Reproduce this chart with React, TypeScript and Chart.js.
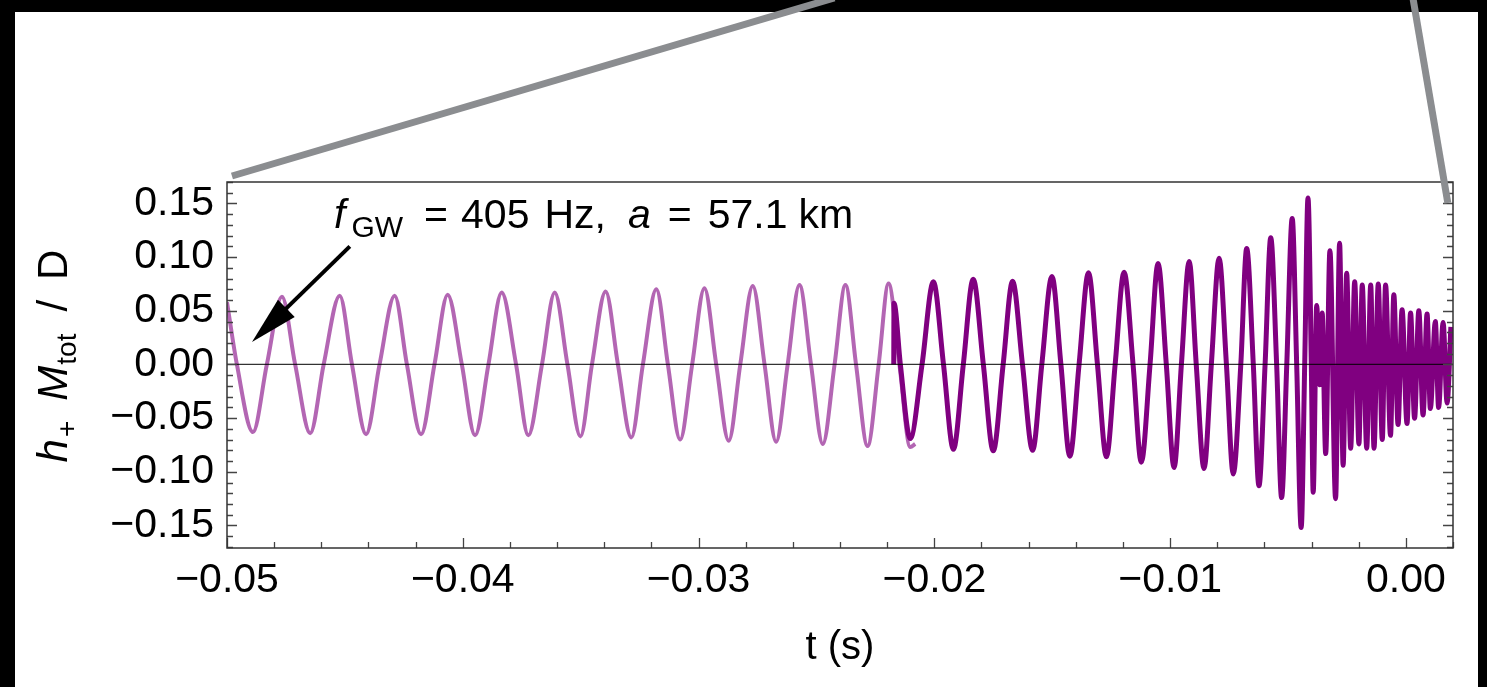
import React, { useEffect, useRef } from "react";
import { Chart, registerables } from "chart.js";

Chart.register(...registerables);

const FONT = '"Liberation Sans", Arial, Helvetica, sans-serif';

// ---- light (early inspiral) waveform: time (s) and strain ----
const lightT = [
  -0.05, -0.04958, -0.0489, -0.04831, -0.04767, -0.04711, -0.04647, -0.0459, -0.04522, -0.0447,
  -0.0441, -0.04353, -0.04289, -0.04237, -0.04177, -0.0412, -0.04064, -0.04004, -0.03948, -0.03891,
  -0.03835, -0.03774, -0.03722, -0.03664, -0.0361, -0.03556, -0.03501, -0.03452, -0.03394, -0.03342,
  -0.03285, -0.03236, -0.03179, -0.0313, -0.03078, -0.03027, -0.02975, -0.02925, -0.02872, -0.02823,
  -0.0277, -0.0272, -0.02671, -0.02622, -0.02572, -0.02523, -0.02473, -0.02423, -0.02377, -0.02332,
  -0.02283, -0.02236, -0.02194, -0.02148, -0.02102, -0.02081,
];
const lightH = [
  0.058, 0, -0.063, 0, 0.063, 0, -0.064, 0, 0.064, 0,
  -0.065, 0, 0.064, 0, -0.065, 0, 0.065, 0, -0.066, 0,
  0.067, 0, -0.066, 0, 0.067, 0, -0.067, 0, 0.068, 0,
  -0.068, 0, 0.07, 0, -0.07, 0, 0.071, 0, -0.071, 0,
  0.073, 0, -0.072, 0, 0.074, 0, -0.074, 0, 0.074, 0,
  -0.076, 0, 0.0755, 0, -0.077, -0.074,
];

// ---- dark (late inspiral, merger, post-merger) waveform ----
const darkT = [
  -0.02172, -0.02171, -0.02144, -0.02102, -0.02052, -0.02004, -0.01961, -0.01919, -0.01877, -0.01835,
  -0.01792, -0.0175, -0.01708, -0.01668, -0.01626, -0.01583, -0.01544, -0.01501, -0.01463, -0.01425,
  -0.01386, -0.01346, -0.01308, -0.0127, -0.01233, -0.01195, -0.01157, -0.01122, -0.01085, -0.01051,
  -0.01016, -0.00983, -0.00952, -0.00919, -0.00889, -0.00856, -0.00825, -0.00792, -0.00761, -0.00732,
  -0.007, -0.00675, -0.00647, -0.00623, -0.00597, -0.00573, -0.00548, -0.00527, -0.00505, -0.00482,
  -0.00463, -0.00444, -0.00429, -0.00415, -0.00401, -0.00393,
  -0.00378, -0.00366, -0.00355, -0.0034, -0.00322, -0.00298, -0.00281, -0.00266, -0.00251, -0.00234,
  -0.00217, -0.00199, -0.00185, -0.00166, -0.00149, -0.00135, -0.00117, -0.001, -0.00086, -0.00065,
  -0.00051, -0.00033, -0.00016, 0.00005, 0.0002, 0.00037, 0.00055, 0.00073, 0.0009, 0.00104,
  0.00125, 0.00139, 0.00158, 0.00175, 0.00191,
];
const darkH = [
  0, 0.057, 0, -0.069, 0, 0.077, 0, -0.079, 0, 0.0795,
  0, -0.0805, 0, 0.0776, 0, -0.08, 0, 0.082, 0, -0.0855,
  0, 0.0855, 0, -0.086, 0, 0.086, 0, -0.091, 0, 0.094,
  0, -0.096, 0, 0.096, 0, -0.097, 0, 0.099, 0, -0.102,
  0, 0.108, 0, -0.113, 0, 0.118, 0, -0.124, 0, 0.136,
  0, -0.152, 0, 0.155, 0, -0.119,
  0.055, -0.019, 0.048, -0.083, 0.106, -0.125, 0.113, -0.094, 0.085, -0.078,
  0.077, -0.074, 0.074, -0.078, 0.074, -0.078, 0.075, -0.07, 0.074, -0.066,
  0.065, -0.056, 0.051, -0.055, 0.048, -0.05, 0.05, -0.047, 0.047, -0.041,
  0.04, -0.04, 0.039, -0.036, 0.035,
];

// ---- axes ----
const xRange = [-0.05, 0.002];
const yRange = [-0.171, 0.17];
const xTickValues = [-0.05, -0.04, -0.03, -0.02, -0.01, 0.0];
const yTickValues = [-0.15, -0.1, -0.05, 0.0, 0.05, 0.1, 0.15];
const xMinorStep = 0.002;
const yMinorStep = 0.01;

// ---- annotation (data coords) ----
const annotationAnchor = { t: -0.04546, h: 0.127 };
const arrowFrom = { t: -0.04479, h: 0.11 };
const arrowTo = { t: -0.04894, h: 0.021 };
// zoom guide lines (data coords, extending above the frame)
const guideLines = [
  [{ t: -0.04979, h: 0.1756 }, { t: -0.02424, h: 0.3415 }],
  [{ t: 0.0003, h: 0.3415 }, { t: 0.00178, h: 0.1504 }],
];

type Piece = { text: string; italic?: boolean; sub?: boolean; gap?: number };

const annotationPieces: Piece[] = [
  { text: "f", italic: true },
  { text: "GW", sub: true, gap: 6 },
  { text: "=", gap: 21 },
  { text: "405", gap: 13 },
  { text: "Hz,", gap: 15 },
  { text: "a", italic: true, gap: 22 },
  { text: "=", gap: 17 },
  { text: "57.1", gap: 16 },
  { text: "km", gap: 11 },
];

const yTitlePieces: Piece[] = [
  { text: "h", italic: true },
  { text: "+", sub: true, gap: 2 },
  { text: "M", italic: true, gap: 20 },
  { text: "tot", sub: true, gap: 1 },
  { text: "/", gap: 22 },
  { text: "D", gap: 20 },
];

const fmt = (v: number) => {
  if (Math.abs(v) < 1e-9) return "0.00";
  const s = Math.abs(v).toFixed(2);
  return v < 0 ? "\u2212" + s : s;
};

function drawPieces(
  ctx: CanvasRenderingContext2D,
  pieces: Piece[],
  size: number,
  subSize: number,
  subDy: number,
  dry: boolean
) {
  let x = 0;
  for (const p of pieces) {
    x += p.gap || 0;
    const fs = p.sub ? subSize : size;
    ctx.font = `${p.italic ? "italic " : ""}${fs}px ${FONT}`;
    if (!dry) ctx.fillText(p.text, x, p.sub ? subDy : 0);
    x += ctx.measureText(p.text).width;
  }
  return x;
}

const overlayPlugin = {
  id: "overlay",
  beforeDraw(chart: any) {
    const ctx = chart.ctx as CanvasRenderingContext2D;
    const W = chart.width;
    const H = chart.height;
    ctx.save();
    ctx.fillStyle = "#ffffff";
    ctx.fillRect(0, 0, W, H);
    ctx.fillStyle = "#000000";
    ctx.fillRect(0, 0, W, 12);
    ctx.fillRect(0, 0, 15, H);
    ctx.fillRect(1478, 0, W - 1478, H);
    ctx.restore();
  },
  afterDatasetsDraw(chart: any) {
    const ctx = chart.ctx as CanvasRenderingContext2D;
    const xs = chart.scales.x;
    const ys = chart.scales.y;
    const { left, right, top, bottom } = chart.chartArea;
    ctx.save();
    // zero line
    const y0 = ys.getPixelForValue(0);
    ctx.strokeStyle = "rgba(0,0,0,0.8)";
    ctx.lineWidth = 1.2;
    ctx.beginPath();
    ctx.moveTo(left, y0);
    ctx.lineTo(right, y0);
    ctx.stroke();

    // ticks
    ctx.strokeStyle = "#444";
    ctx.lineWidth = 1.3;
    ctx.beginPath();
    const nx0 = Math.round(xRange[0] / xMinorStep);
    const nx1 = Math.round(xRange[1] / xMinorStep);
    for (let i = nx0; i <= nx1; i++) {
      const v = i * xMinorStep;
      const px = Math.round(xs.getPixelForValue(v)) + 0.5;
      const len = i % 5 === 0 ? 10 : 6;
      ctx.moveTo(px, bottom);
      ctx.lineTo(px, bottom - len);
    }
    const ny0 = Math.ceil(yRange[0] / yMinorStep);
    const ny1 = Math.floor(yRange[1] / yMinorStep);
    for (let i = ny0; i <= ny1; i++) {
      const v = i * yMinorStep;
      const py = Math.round(ys.getPixelForValue(v)) + 0.5;
      const len = i % 5 === 0 ? 10 : 6;
      ctx.moveTo(left, py);
      ctx.lineTo(left + len, py);
      ctx.moveTo(right, py);
      ctx.lineTo(right - len, py);
    }
    ctx.stroke();

    // frame
    ctx.strokeStyle = "#333";
    ctx.lineWidth = 1.5;
    ctx.strokeRect(left, top, right - left, bottom - top);
    ctx.restore();
  },
  afterDraw(chart: any) {
    const ctx = chart.ctx as CanvasRenderingContext2D;
    const xs = chart.scales.x;
    const ys = chart.scales.y;
    ctx.save();
    ctx.fillStyle = "#000";
    ctx.textBaseline = "alphabetic";
    ctx.textAlign = "left";

    // annotation text
    const ax = xs.getPixelForValue(annotationAnchor.t);
    const ay = ys.getPixelForValue(annotationAnchor.h);
    ctx.save();
    ctx.translate(ax, ay);
    drawPieces(ctx, annotationPieces, 41, 30, 9, false);
    ctx.restore();

    // arrow
    const x1 = xs.getPixelForValue(arrowFrom.t);
    const y1 = ys.getPixelForValue(arrowFrom.h);
    const x2 = xs.getPixelForValue(arrowTo.t);
    const y2 = ys.getPixelForValue(arrowTo.h);
    const ang = Math.atan2(y2 - y1, x2 - x1);
    const headLen = 48;
    const headHalf = 12;
    const bx = x2 - headLen * Math.cos(ang);
    const by = y2 - headLen * Math.sin(ang);
    ctx.strokeStyle = "#000";
    ctx.lineWidth = 4;
    ctx.beginPath();
    ctx.moveTo(x1, y1);
    ctx.lineTo(bx + 4 * Math.cos(ang), by + 4 * Math.sin(ang));
    ctx.stroke();
    ctx.beginPath();
    ctx.moveTo(x2, y2);
    ctx.lineTo(bx - headHalf * Math.sin(ang), by + headHalf * Math.cos(ang));
    ctx.lineTo(bx + headHalf * Math.sin(ang), by - headHalf * Math.cos(ang));
    ctx.closePath();
    ctx.fill();

    // y axis title (rotated)
    ctx.save();
    const yMid = (chart.chartArea.top + chart.chartArea.bottom) / 2;
    const tw = drawPieces(ctx, yTitlePieces, 42, 28, 9, true);
    ctx.translate(67, yMid - 9);
    ctx.rotate(-Math.PI / 2);
    ctx.translate(-tw / 2, 0);
    drawPieces(ctx, yTitlePieces, 42, 28, 9, false);
    ctx.restore();

    // x axis title
    ctx.font = `40px ${FONT}`;
    ctx.textAlign = "center";
    ctx.fillText("t (s)", 840, 659);

    // guide lines
    ctx.strokeStyle = "#8b8d90";
    ctx.lineWidth = 7;
    ctx.lineCap = "butt";
    for (const seg of guideLines) {
      ctx.beginPath();
      ctx.moveTo(xs.getPixelForValue(seg[0].t), ys.getPixelForValue(seg[0].h));
      ctx.lineTo(xs.getPixelForValue(seg[1].t), ys.getPixelForValue(seg[1].h));
      ctx.stroke();
    }
    ctx.restore();
  },
};

export default function App() {
  const ref = useRef<HTMLCanvasElement | null>(null);
  useEffect(() => {
    if (!ref.current) return;
    const chart = new Chart(ref.current, {
      type: "line",
      data: {
        datasets: [
          {
            label: "dark",
            data: darkT.map((t, i) => ({ x: t, y: darkH[i] })),
            borderColor: "#800080",
            borderWidth: 5,
            pointRadius: 0,
            cubicInterpolationMode: "monotone",
            clip: 0,
            order: 1,
          },
          {
            label: "light",
            data: lightT.map((t, i) => ({ x: t, y: lightH[i] })),
            borderColor: "rgba(128,0,128,0.6)",
            borderWidth: 4,
            pointRadius: 0,
            cubicInterpolationMode: "monotone",
            clip: 0,
            order: 2,
          },
        ],
      } as any,
      options: {
        animation: false,
        responsive: false,
        devicePixelRatio: 1,
        layout: { padding: { top: 182, right: 34, left: 0, bottom: 0 } },
        plugins: { legend: { display: false }, tooltip: { enabled: false } },
        scales: {
          x: {
            type: "linear",
            min: xRange[0],
            max: xRange[1],
            grid: { display: false, drawTicks: false },
            border: { display: false },
            ticks: {
              color: "#000",
              font: { family: FONT, size: 41 },
              padding: 8,
              maxRotation: 0,
              autoSkip: false,
              callback: (v: any) => fmt(Number(v)),
            },
            afterBuildTicks: (s: any) => {
              s.ticks = xTickValues.map((v) => ({ value: v }));
            },
            afterFit: (s: any) => {
              s.height = 139;
            },
          },
          y: {
            type: "linear",
            min: yRange[0],
            max: yRange[1],
            grid: { display: false, drawTicks: false },
            border: { display: false },
            ticks: {
              color: "#000",
              font: { family: FONT, size: 41 },
              padding: 13,
              autoSkip: false,
              callback: (v: any) => fmt(Number(v)),
            },
            afterBuildTicks: (s: any) => {
              s.ticks = yTickValues.map((v) => ({ value: v }));
            },
            afterFit: (s: any) => {
              s.width = 227;
            },
          },
        },
      } as any,
      plugins: [overlayPlugin],
    });
    return () => chart.destroy();
  }, []);
  return (
    <div style={{ position: "fixed", left: 0, top: 0, width: 1487, height: 687 }}>
      <canvas ref={ref} width={1487} height={687} style={{ display: "block" }} />
    </div>
  );
}
